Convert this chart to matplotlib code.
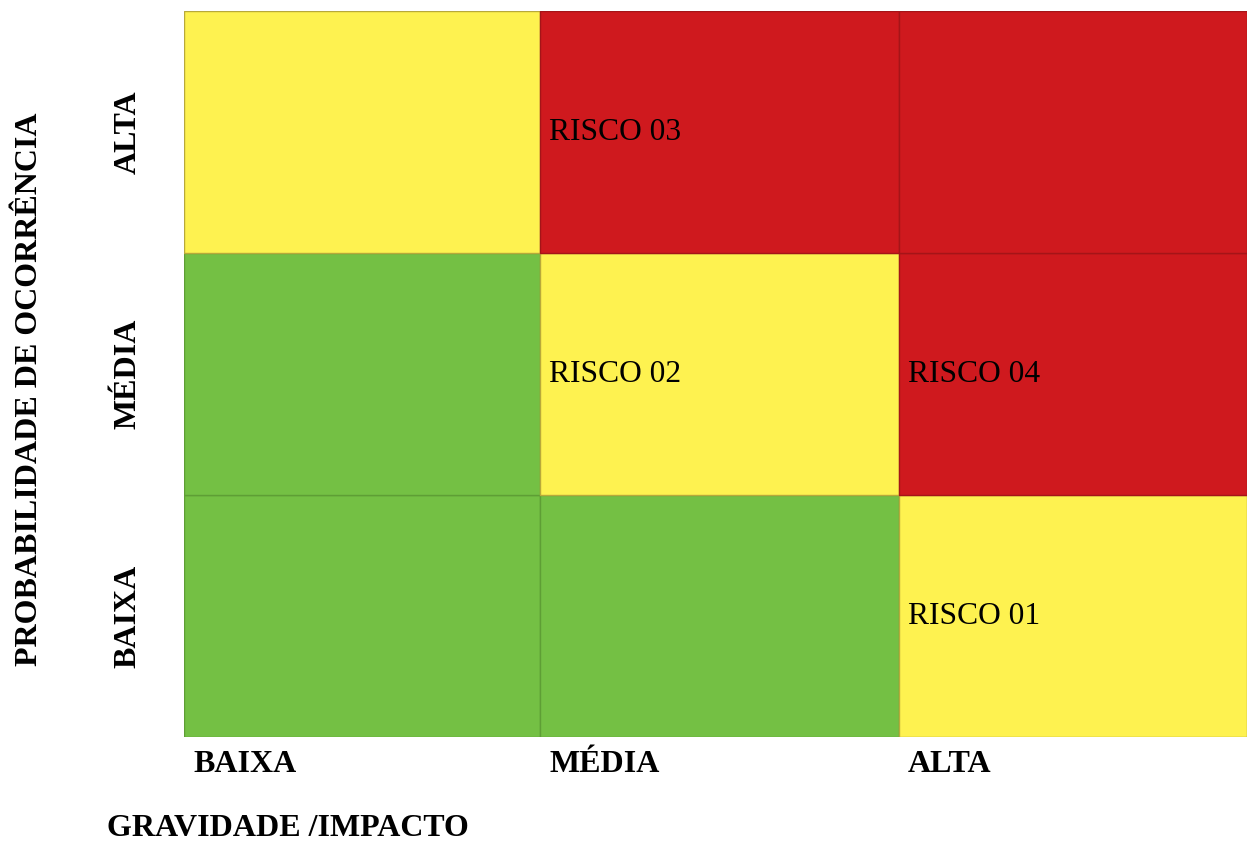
import matplotlib
matplotlib.use('Agg')
import matplotlib.pyplot as plt

impact_labels = ['BAIXA', 'MÉDIA', 'ALTA']
prob_labels = ['BAIXA', 'MÉDIA', 'ALTA']
# level per cell: rows = probability (BAIXA..ALTA), cols = impact (BAIXA..ALTA)
levels = [
    [0, 0, 1],
    [0, 1, 2],
    [1, 2, 2],
]
risk_names = ['RISCO 01', 'RISCO 02', 'RISCO 03', 'RISCO 04']
risk_impact = [2, 1, 1, 2]
risk_prob = [0, 1, 2, 1]

fill_colors = ['#74C044', '#FEF250', '#CF191E']
edge_colors = ['#5E9E35', '#B8A93A', '#A51418']
# column edges (layout only, the cells in the original are not quite even)
col_edges = [0, 356, 715, 1063]

plt.rcParams['font.family'] = ['Liberation Serif', 'DejaVu Serif']

fig = plt.figure(figsize=(12.47, 8.44), dpi=100)
fig.patch.set_facecolor('white')
ax = fig.add_axes([184 / 1247, 107 / 844, 1063 / 1247, 726 / 844])

for r in range(3):
    for c in range(3):
        lv = levels[r][c]
        ax.bar(col_edges[c], 1, width=col_edges[c + 1] - col_edges[c], bottom=r,
               align='edge', color=fill_colors[lv], edgecolor=edge_colors[lv],
               linewidth=1)

for name, c, r in zip(risk_names, risk_impact, risk_prob):
    ax.annotate(name, xy=(col_edges[c], r + 0.5), xytext=(9, 0),
                textcoords='offset pixels', ha='left', va='center',
                fontsize=22.7, color='black')

ax.set_xlim(0, col_edges[-1])
ax.set_ylim(0, 3)
ax.set_xticks([])
ax.set_yticks([])
for s in ax.spines.values():
    s.set_visible(False)

for i, lab in enumerate(impact_labels):
    ax.annotate(lab, xy=(col_edges[i], 0), xycoords=('data', 'axes fraction'),
                xytext=(9, -27), textcoords='offset pixels',
                ha='left', va='center', fontsize=23, fontweight='bold')

for i, lab in enumerate(prob_labels):
    ax.annotate(lab, xy=(0, i + 0.5), xycoords=('axes fraction', 'data'),
                xytext=(-56, 0), textcoords='offset pixels', rotation=90,
                ha='center', va='center', fontsize=23, fontweight='bold')

fig.text(107 / 1247, 1 - 829 / 844, 'GRAVIDADE /IMPACTO', ha='left', va='center',
         fontsize=23, fontweight='bold')
fig.text(30 / 1247, 1 - 389 / 844, 'PROBABILIDADE DE OCORRÊNCIA', rotation=90,
         ha='center', va='center', fontsize=23, fontweight='bold')

fig.savefig('out.png', dpi=100)
